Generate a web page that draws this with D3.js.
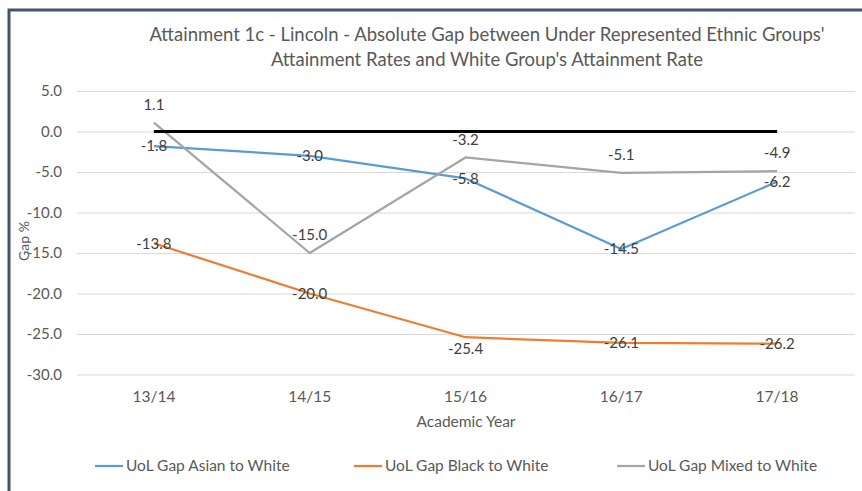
<!DOCTYPE html>
<html>
<head>
<meta charset="utf-8">
<script src="https://cdn.jsdelivr.net/npm/d3@7"></script>
<style>
  body { margin: 0; background: #fff; }
  svg text { font-family: Lato, "Open Sans", sans-serif; }
</style>
</head>
<body>
<div id="chart"></div>
<script>
(() => {

// data
const years = ["13/14", "14/15", "15/16", "16/17", "17/18"]
const asian = [-1.8, -3.0, -5.8, -14.5, -6.2]
const black = [-13.8, -20.0, -25.4, -26.1, -26.2]
const mixed = [1.1, -15.0, -3.2, -5.1, -4.9]
const zeroLine = [0, 0, 0, 0, 0]
const yTicks = [5, 0, -5, -10, -15, -20, -25, -30]
const seriesNames = ["UoL Gap Asian to White", "UoL Gap Black to White", "UoL Gap Mixed to White"]

const W = 862, H = 491
const colors = ["#5b9bd5", "#ed7d31", "#a5a5a5"]
// where excel put the labels
const labelPos = [
    ["c", "c", "c", "c", "c"],
    ["c", "c", "b", "c", "c"],
    ["a", "a", "a", "a", "a"]
]

let svg = d3.select("#chart").append("svg")
            .attr("width", W)
            .attr("height", H)

let x = d3.scaleBand().domain(years).range([76, 855]).padding(0)
let y = d3.scaleLinear().domain([-30, 5]).range([374.5, 91])
let cx = d => x(d) + x.bandwidth() / 2
let fmt = d => d3.format(".1f")(d).replace("−", "-")

// frame
svg.append("path")
   .attr("d", "M9,491 V10 H862")
   .attr("fill", "none")
   .attr("stroke", "#44546a")
   .attr("stroke-width", 3)

// title
let title = svg.append("text")
               .attr("text-anchor", "middle")
               .attr("fill", "#595959")
               .attr("font-size", 18.5)
title.append("tspan").attr("x", 487).attr("y", 41)
     .text("Attainment 1c - Lincoln - Absolute Gap between Under Represented Ethnic Groups'")
title.append("tspan").attr("x", 487).attr("y", 66)
     .text("Attainment Rates and White Group's Attainment Rate")

// grid + y axis
let yAxis = svg.append("g")
               .attr("transform", "translate(77,0)")
               .call(d3.axisLeft(y).tickValues(yTicks).tickSize(-(855 - 77)).tickPadding(15))
yAxis.select(".domain").remove()
yAxis.selectAll(".tick line").attr("stroke", "#d9d9d9")
yAxis.selectAll(".tick text").attr("fill", "#595959").attr("font-size", 15)
     .text(fmt)

// x axis labels
let xAxis = svg.append("g")
               .attr("transform", "translate(0,381)")
               .call(d3.axisBottom(x).tickSize(0).tickPadding(10))
xAxis.select(".domain").remove()
xAxis.selectAll(".tick text").attr("fill", "#595959").attr("font-size", 15.5)

svg.append("text")
   .attr("x", 466).attr("y", 422)
   .attr("dy", "0.35em")
   .attr("text-anchor", "middle")
   .attr("fill", "#595959").attr("font-size", 15.5)
   .text("Academic Year")

svg.append("text")
   .attr("transform", "translate(24,241) rotate(-90)")
   .attr("dy", "0.35em")
   .attr("text-anchor", "middle")
   .attr("fill", "#595959").attr("font-size", 14)
   .text("Gap %")

// lines
let line = d3.line().x((d, i) => cx(years[i])).y(d => y(d))
let allSeries = [asian, black, mixed]

allSeries.forEach((s, k) => {
    svg.append("path")
       .datum(s)
       .attr("fill", "none")
       .attr("stroke", colors[k])
       .attr("stroke-width", 2.25)
       .attr("stroke-linejoin", "round")
       .attr("d", line)
})

svg.append("path")
   .datum(zeroLine)
   .attr("fill", "none")
   .attr("stroke", "#000")
   .attr("stroke-width", 3)
   .attr("d", line)

// data labels
allSeries.forEach((s, k) => {
    svg.append("g").selectAll("text")
       .data(s).enter()
       .append("text")
       .attr("x", (d, i) => cx(years[i]))
       .attr("y", (d, i) => {
            let p = labelPos[k][i]
            let off = p == "a" ? -18 : p == "b" ? 12 : 0
            return y(d) + off
       })
       .attr("dy", "0.35em")
       .attr("text-anchor", "middle")
       .attr("fill", "#404040")
       .attr("font-size", 15)
       .text(fmt)
})

// legend
const legendX = [95, 354, 617]
seriesNames.forEach((n, k) => {
    let g = svg.append("g").attr("transform", "translate(" + legendX[k] + ",466)")
    g.append("line")
     .attr("x1", 0).attr("x2", 28)
     .attr("stroke", colors[k]).attr("stroke-width", 2.25)
    g.append("text")
     .attr("x", 31).attr("dy", "0.35em")
     .attr("fill", "#595959").attr("font-size", 15.5)
     .text(n)
})

})();
</script>
</body>
</html>
